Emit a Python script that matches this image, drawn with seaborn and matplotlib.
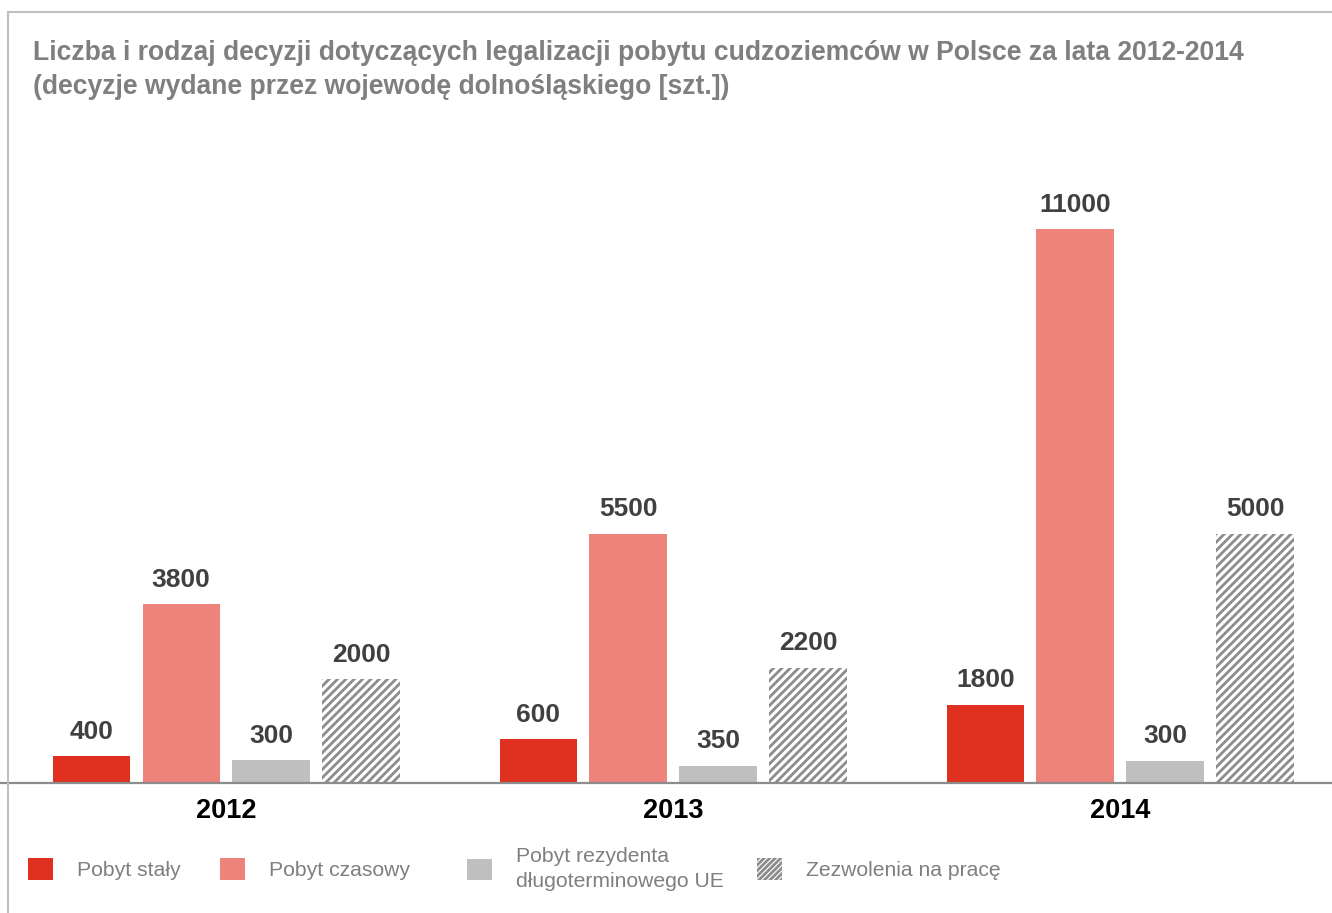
import pandas as pd
import matplotlib
matplotlib.use("Agg")
import matplotlib.pyplot as plt
import seaborn as sns
from matplotlib.patches import Patch, Rectangle

# =========================
# DATA
# =========================
lata = ["2012", "2013", "2014"]
rodzaje = ["Pobyt stały", "Pobyt czasowy",
           "Pobyt rezydenta\ndługoterminowego UE", "Zezwolenia na pracę"]

# bar heights as drawn in the picture (the picture is not to scale with its labels)
pobyt_staly = [530, 870, 1550]
pobyt_czasowy = [3550, 4950, 11000]
rezydent_ue = [450, 340, 440]
zezwolenia = [2060, 2290, 4950]

# numbers printed above the bars
etykiety_staly = ["400", "600", "1800"]
etykiety_czasowy = ["3800", "5500", "11000"]
etykiety_rezydent = ["300", "350", "300"]
etykiety_zezwolenia = ["2000", "2200", "5000"]

kolory = ["#E03120", "#EE837B", "#BFBFBF", "#FFFFFF"]
hatch_color = "#8C8C8C"

df = pd.DataFrame({
    "rok": lata * 4,
    "rodzaj": [r for r in rodzaje for _ in lata],
    "liczba": pobyt_staly + pobyt_czasowy + rezydent_ue + zezwolenia,
})

# =========================
# STYLE
# =========================
sns.set_style("white")
plt.rcParams["font.family"] = ["Liberation Sans", "DejaVu Sans"]
plt.rcParams["hatch.linewidth"] = 2.0

fig = plt.figure(figsize=(13.32, 9.13), dpi=100)
ax = fig.add_axes([0.0, 130 / 913, 1.0, 604 / 913])

sns.barplot(
    data=df, x="rok", y="liczba", hue="rodzaj",
    order=lata, hue_order=rodzaje, palette=kolory, saturation=1,
    width=0.805, gap=0.14, legend=False, ax=ax,
    linewidth=0, edgecolor="none",
)

# hatched series
for bar in ax.containers[3]:
    bar.set_hatch("////")
    bar.set_edgecolor(hatch_color)
    bar.set_linewidth(0)

etykiety = [etykiety_staly, etykiety_czasowy, etykiety_rezydent, etykiety_zezwolenia]
for cont, lab in zip(ax.containers, etykiety):
    ax.bar_label(cont, labels=lab, padding=9, fontsize=19,
                 fontweight="bold", color="#404040")

ax.set_xlim(-0.506, 2.474)
ax.set_ylim(0, 12000)
ax.set_xlabel("")
ax.set_ylabel("")
ax.set_yticks([])
ax.tick_params(axis="x", length=0, pad=11)
for t in ax.get_xticklabels():
    t.set_fontsize(19.5)
    t.set_fontweight("bold")
    t.set_color("black")
for s in ["left", "right", "top"]:
    ax.spines[s].set_visible(False)
ax.spines["bottom"].set_color(hatch_color)
ax.spines["bottom"].set_linewidth(1.6)
ax.patch.set_alpha(0)

# =========================
# TITLE + FRAME
# =========================
fig.text(33 / 1332, 1 - 60 / 913,
         "Liczba i rodzaj decyzji dotyczących legalizacji pobytu cudzoziemców w Polsce za lata 2012-2014",
         fontsize=19.1, fontweight="bold", color="#7F7F7F", va="baseline")
fig.text(33 / 1332, 1 - 94 / 913,
         "(decyzje wydane przez wojewodę dolnośląskiego [szt.])",
         fontsize=19.1, fontweight="bold", color="#7F7F7F", va="baseline")

fig.add_artist(Rectangle((8 / 1332, -0.05), 1.2, 1.05 - 12 / 913,
                         transform=fig.transFigure, fill=False,
                         edgecolor="#BFBFBF", linewidth=1.5))

# =========================
# LEGEND
# =========================
uchwyty = [
    Patch(facecolor=kolory[0], linewidth=0),
    Patch(facecolor=kolory[1], linewidth=0),
    Patch(facecolor=kolory[2], linewidth=0),
    Patch(facecolor="white", edgecolor=hatch_color, hatch="//////", linewidth=0),
]
pozycje_x = [28, 220, 467, 757]
for h, lab, x in zip(uchwyty, rodzaje, pozycje_x):
    leg = fig.legend(handles=[h], labels=[lab], loc="center left",
                     bbox_to_anchor=(x / 1332, 1 - 869 / 913),
                     frameon=False, fontsize=15.2, labelcolor="#7F7F7F",
                     handlelength=1.2, handleheight=1.2, handletextpad=1.1,
                     borderpad=0, borderaxespad=0)
    leg.get_texts()[0].set_linespacing(1.35)

fig.savefig("out.png", dpi=100)
